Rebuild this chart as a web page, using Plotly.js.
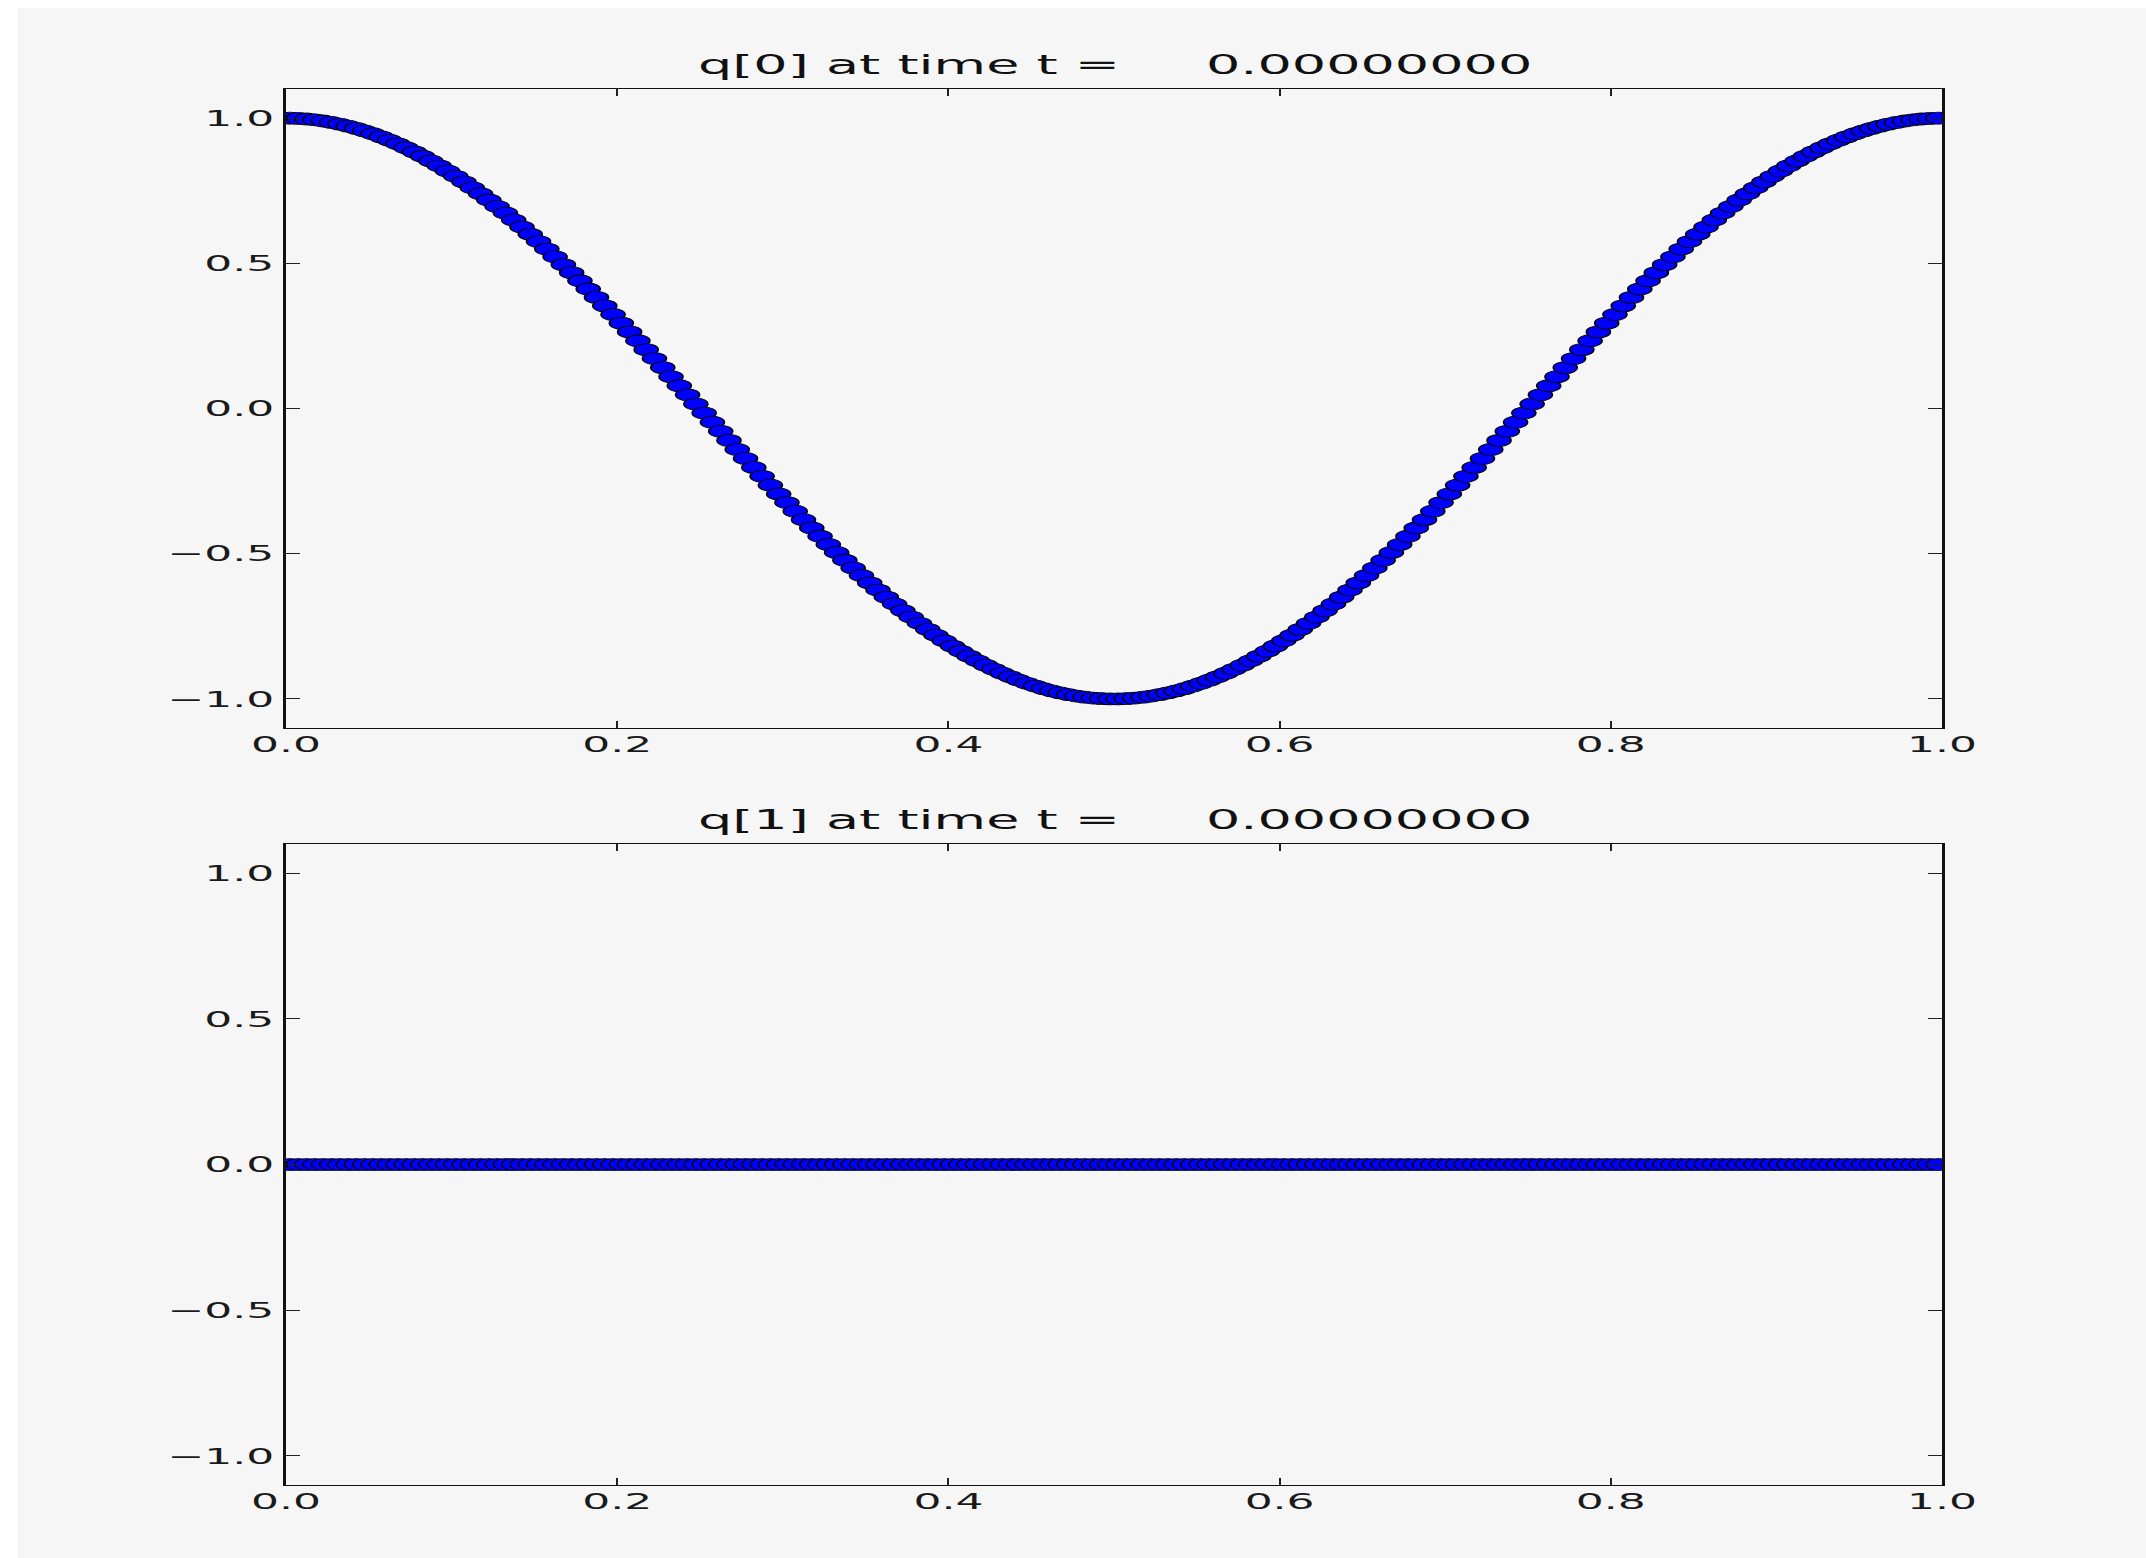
<!DOCTYPE html>
<html>
<head>
<meta charset="utf-8">
<script src="https://cdn.plot.ly/plotly-3.0.1.min.js"></script>
<style>
  html, body { margin: 0; padding: 0; background: #ffffff; }
  body { width: 2146px; height: 1558px; position: relative; overflow: hidden; }
  /* the figure is drawn at half width and stretched horizontally */
  #fig {
    position: absolute; left: 18px; top: 8px;
    width: 1064px; height: 1550px;
    transform: scaleX(2); transform-origin: 0 0;
  }
</style>
</head>
<body>
<div id="fig"></div>
<script>
// cell centres of the 200-cell grid on [0, 1]
const xCells = [
  0.0025,0.0075,0.0125,0.0175,0.0225,0.0275,0.0325,0.0375,0.0425,0.0475,
  0.0525,0.0575,0.0625,0.0675,0.0725,0.0775,0.0825,0.0875,0.0925,0.0975,
  0.1025,0.1075,0.1125,0.1175,0.1225,0.1275,0.1325,0.1375,0.1425,0.1475,
  0.1525,0.1575,0.1625,0.1675,0.1725,0.1775,0.1825,0.1875,0.1925,0.1975,
  0.2025,0.2075,0.2125,0.2175,0.2225,0.2275,0.2325,0.2375,0.2425,0.2475,
  0.2525,0.2575,0.2625,0.2675,0.2725,0.2775,0.2825,0.2875,0.2925,0.2975,
  0.3025,0.3075,0.3125,0.3175,0.3225,0.3275,0.3325,0.3375,0.3425,0.3475,
  0.3525,0.3575,0.3625,0.3675,0.3725,0.3775,0.3825,0.3875,0.3925,0.3975,
  0.4025,0.4075,0.4125,0.4175,0.4225,0.4275,0.4325,0.4375,0.4425,0.4475,
  0.4525,0.4575,0.4625,0.4675,0.4725,0.4775,0.4825,0.4875,0.4925,0.4975,
  0.5025,0.5075,0.5125,0.5175,0.5225,0.5275,0.5325,0.5375,0.5425,0.5475,
  0.5525,0.5575,0.5625,0.5675,0.5725,0.5775,0.5825,0.5875,0.5925,0.5975,
  0.6025,0.6075,0.6125,0.6175,0.6225,0.6275,0.6325,0.6375,0.6425,0.6475,
  0.6525,0.6575,0.6625,0.6675,0.6725,0.6775,0.6825,0.6875,0.6925,0.6975,
  0.7025,0.7075,0.7125,0.7175,0.7225,0.7275,0.7325,0.7375,0.7425,0.7475,
  0.7525,0.7575,0.7625,0.7675,0.7725,0.7775,0.7825,0.7875,0.7925,0.7975,
  0.8025,0.8075,0.8125,0.8175,0.8225,0.8275,0.8325,0.8375,0.8425,0.8475,
  0.8525,0.8575,0.8625,0.8675,0.8725,0.8775,0.8825,0.8875,0.8925,0.8975,
  0.9025,0.9075,0.9125,0.9175,0.9225,0.9275,0.9325,0.9375,0.9425,0.9475,
  0.9525,0.9575,0.9625,0.9675,0.9725,0.9775,0.9825,0.9875,0.9925,0.9975
];

// q[0] in each cell
const q0 = [
  0.9999,0.9989,0.9969,0.9940,0.9900,0.9851,0.9792,0.9724,0.9646,0.9558,
  0.9461,0.9354,0.9239,0.9114,0.8980,0.8838,0.8686,0.8526,0.8358,0.8181,
  0.7997,0.7804,0.7604,0.7396,0.7181,0.6959,0.6730,0.6494,0.6252,0.6004,
  0.5750,0.5490,0.5225,0.4955,0.4679,0.4399,0.4115,0.3827,0.3535,0.3239,
  0.2940,0.2639,0.2334,0.2028,0.1719,0.1409,0.1097,0.0785,0.0471,0.0157,
  -0.0157,-0.0471,-0.0785,-0.1097,-0.1409,-0.1719,-0.2028,-0.2334,-0.2639,-0.2940,
  -0.3239,-0.3535,-0.3827,-0.4115,-0.4399,-0.4679,-0.4955,-0.5225,-0.5490,-0.5750,
  -0.6004,-0.6252,-0.6494,-0.6730,-0.6959,-0.7181,-0.7396,-0.7604,-0.7804,-0.7997,
  -0.8181,-0.8358,-0.8526,-0.8686,-0.8838,-0.8980,-0.9114,-0.9239,-0.9354,-0.9461,
  -0.9558,-0.9646,-0.9724,-0.9792,-0.9851,-0.9900,-0.9940,-0.9969,-0.9989,-0.9999,
  -0.9999,-0.9989,-0.9969,-0.9940,-0.9900,-0.9851,-0.9792,-0.9724,-0.9646,-0.9558,
  -0.9461,-0.9354,-0.9239,-0.9114,-0.8980,-0.8838,-0.8686,-0.8526,-0.8358,-0.8181,
  -0.7997,-0.7804,-0.7604,-0.7396,-0.7181,-0.6959,-0.6730,-0.6494,-0.6252,-0.6004,
  -0.5750,-0.5490,-0.5225,-0.4955,-0.4679,-0.4399,-0.4115,-0.3827,-0.3535,-0.3239,
  -0.2940,-0.2639,-0.2334,-0.2028,-0.1719,-0.1409,-0.1097,-0.0785,-0.0471,-0.0157,
  0.0157,0.0471,0.0785,0.1097,0.1409,0.1719,0.2028,0.2334,0.2639,0.2940,
  0.3239,0.3535,0.3827,0.4115,0.4399,0.4679,0.4955,0.5225,0.5490,0.5750,
  0.6004,0.6252,0.6494,0.6730,0.6959,0.7181,0.7396,0.7604,0.7804,0.7997,
  0.8181,0.8358,0.8526,0.8686,0.8838,0.8980,0.9114,0.9239,0.9354,0.9461,
  0.9558,0.9646,0.9724,0.9792,0.9851,0.9900,0.9940,0.9969,0.9989,0.9999
];

// q[1] in each cell
const q1 = [
  0,0,0,0,0,0,0,0,0,0,0,0,0,0,0,0,0,0,0,0,
  0,0,0,0,0,0,0,0,0,0,0,0,0,0,0,0,0,0,0,0,
  0,0,0,0,0,0,0,0,0,0,0,0,0,0,0,0,0,0,0,0,
  0,0,0,0,0,0,0,0,0,0,0,0,0,0,0,0,0,0,0,0,
  0,0,0,0,0,0,0,0,0,0,0,0,0,0,0,0,0,0,0,0,
  0,0,0,0,0,0,0,0,0,0,0,0,0,0,0,0,0,0,0,0,
  0,0,0,0,0,0,0,0,0,0,0,0,0,0,0,0,0,0,0,0,
  0,0,0,0,0,0,0,0,0,0,0,0,0,0,0,0,0,0,0,0,
  0,0,0,0,0,0,0,0,0,0,0,0,0,0,0,0,0,0,0,0,
  0,0,0,0,0,0,0,0,0,0,0,0,0,0,0,0,0,0,0,0
];

const frameTime = 0.0;
const xTicks = [0.0, 0.2, 0.4, 0.6, 0.8, 1.0];
const yTicks = [-1.0, -0.5, 0.0, 0.5, 1.0];

// tick text with a true minus sign
const fmt = v => v.toFixed(1).replace('-', '\u2212');

const timeText = frameTime.toFixed(8).padStart(14, '\u00a0');
const titles = [
  'q[0] at time t =\u00a0' + timeText,
  'q[1] at time t =\u00a0' + timeText
];

const tickFont = { family: 'DejaVu Sans', size: 22, color: '#1a1a1a' };
const titleFont = { family: 'DejaVu Sans', size: 27, color: '#111' };
const bg = '#f6f6f6';

function xAxis(anchor) {
  return {
    anchor: anchor, domain: [0, 1], range: [0, 1],
    tickmode: 'array', tickvals: xTicks, ticktext: xTicks.map(fmt),
    ticks: 'inside', ticklen: 7, tickwidth: 1, tickcolor: '#222',
    showline: true, linecolor: '#111', linewidth: 1.5, mirror: 'ticks',
    showgrid: false, zeroline: false, tickfont: tickFont, ticklabelstandoff: -4
  };
}
function yAxis(anchor, domain) {
  return {
    anchor: anchor, domain: domain, range: [-1.1, 1.1],
    tickmode: 'array', tickvals: yTicks, ticktext: yTicks.map(fmt),
    ticks: 'inside', ticklen: 7, tickwidth: 1, tickcolor: '#222',
    showline: true, linecolor: '#111', linewidth: 1.5, mirror: 'ticks',
    showgrid: false, zeroline: false, tickfont: tickFont
  };
}

const marker = { symbol: 'circle', size: 12, color: '#0000ff', line: { color: '#000000', width: 0.8 } };

const traces = [
  { x: xCells, y: q0, type: 'scatter', mode: 'markers', marker: marker, xaxis: 'x', yaxis: 'y', hoverinfo: 'skip' },
  { x: xCells, y: q1, type: 'scatter', mode: 'markers', marker: marker, xaxis: 'x2', yaxis: 'y2', hoverinfo: 'skip' }
];

const topDomain = [0.5355, 0.9477];
const botDomain = [0.0471, 0.4606];

const layout = {
  width: 1064, height: 1550,
  paper_bgcolor: bg, plot_bgcolor: bg,
  margin: { l: 134, r: 102, t: 0, b: 0, pad: 0 },
  showlegend: false,
  font: { family: 'DejaVu Sans', color: '#111' },
  xaxis: xAxis('y'),
  yaxis: yAxis('x', topDomain),
  xaxis2: xAxis('y2'),
  yaxis2: yAxis('x2', botDomain),
  annotations: [
    { text: titles[0], xref: 'paper', yref: 'paper', x: 0.5, y: topDomain[1],
      xanchor: 'center', yanchor: 'bottom', yshift: 7, showarrow: false, font: titleFont },
    { text: titles[1], xref: 'paper', yref: 'paper', x: 0.5, y: botDomain[1],
      xanchor: 'center', yanchor: 'bottom', yshift: 7, showarrow: false, font: titleFont }
  ]
};

Plotly.newPlot('fig', traces, layout, { displayModeBar: false, staticPlot: true });
</script>
</body>
</html>
